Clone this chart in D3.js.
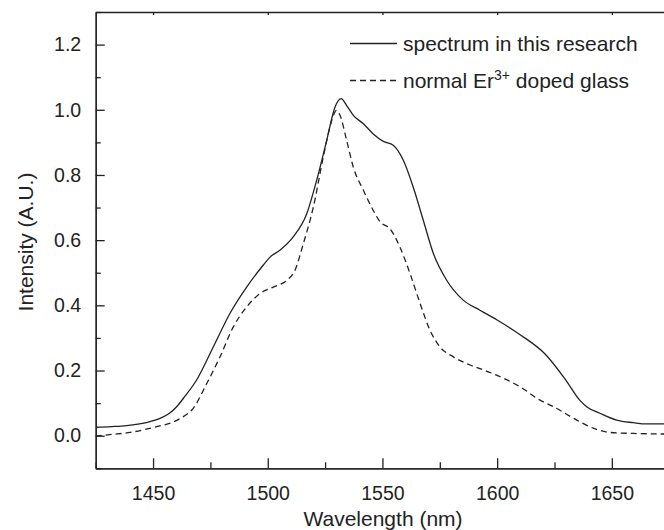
<!DOCTYPE html>
<html>
<head>
<meta charset="utf-8">
<script src="https://cdn.jsdelivr.net/npm/d3@7"></script>
<style>
  body { margin: 0; background: #fff; }
  text { font-family: "Liberation Sans", Arial, sans-serif; fill: #222; }
</style>
</head>
<body>
<div id="chart"></div>
<script>
// spectrum measured in this research (solid line)
var spectrumWl = [1425, 1432, 1438.5, 1447, 1453, 1457, 1460.3, 1464, 1469, 1476.3, 1483.5, 1490.8, 1498, 1501, 1505.3, 1511.1, 1517, 1521.3, 1525.7, 1529.3, 1532, 1534.4, 1537.3, 1541.7, 1546, 1550.4, 1554.7, 1559.1, 1563.4, 1567.8, 1572.2, 1578, 1585.2, 1592.5, 1600, 1610, 1621, 1630, 1636, 1639, 1644.8, 1652.1, 1659.4, 1665, 1675];
var spectrumI  = [0.026, 0.028, 0.031, 0.040, 0.053, 0.068, 0.089, 0.122, 0.171, 0.273, 0.375, 0.456, 0.523, 0.548, 0.569, 0.610, 0.681, 0.783, 0.906, 1.008, 1.034, 1.013, 0.983, 0.957, 0.926, 0.903, 0.891, 0.845, 0.763, 0.661, 0.559, 0.477, 0.416, 0.385, 0.355, 0.310, 0.250, 0.170, 0.109, 0.089, 0.069, 0.048, 0.040, 0.036, 0.036];

// normal Er3+ doped glass (dashed line)
var glassWl = [1425, 1432, 1440, 1447, 1453, 1458, 1461.8, 1467.5, 1473.4, 1479.2, 1485, 1490.8, 1496.6, 1502.4, 1508.3, 1511.9, 1515.5, 1519.9, 1524.2, 1527.9, 1530, 1531.5, 1534.4, 1537.3, 1541.7, 1546, 1549, 1553.3, 1557.6, 1562, 1566.4, 1570.7, 1575, 1580.9, 1588.2, 1592.5, 1600, 1610, 1618.7, 1624.5, 1634.7, 1641.9, 1649.2, 1659.4, 1675];
var glassI  = [-0.001, 0.004, 0.010, 0.020, 0.030, 0.040, 0.053, 0.084, 0.160, 0.242, 0.334, 0.395, 0.436, 0.456, 0.477, 0.508, 0.589, 0.702, 0.855, 0.967, 0.998, 0.983, 0.906, 0.824, 0.753, 0.691, 0.656, 0.635, 0.579, 0.498, 0.406, 0.324, 0.273, 0.242, 0.217, 0.206, 0.185, 0.150, 0.109, 0.089, 0.048, 0.023, 0.010, 0.007, 0.005];

var xMajor = [1450, 1500, 1550, 1600, 1650];
var xMinor = [1425, 1475, 1525, 1575, 1625, 1675];
var yMajor = [0.0, 0.2, 0.4, 0.6, 0.8, 1.0, 1.2];
var yMinor = [-0.1, 0.1, 0.3, 0.5, 0.7, 0.9, 1.1, 1.3];

var W = 664, H = 530;
var plotL = 95.7, plotT = 12, plotB = 468.3, plotR = 669.2;

var svg = d3.select("#chart").append("svg")
    .attr("width", W)
    .attr("height", H);

var x = d3.scaleLinear().domain([1425, 1675]).range([plotL, plotR]);
var y = d3.scaleLinear().domain([-0.1, 1.3]).range([plotB, plotT]);

svg.append("clipPath").attr("id", "plot")
   .append("rect")
   .attr("x", plotL).attr("y", plotT)
   .attr("width", plotR - plotL).attr("height", plotB - plotT);

// axes, ticks pointing inwards
svg.append("g")
   .attr("transform", "translate(0," + plotB + ")")
   .call(d3.axisBottom(x).tickValues(xMajor).tickSize(-10).tickSizeOuter(0).tickPadding(17.5).tickFormat(d3.format("d")))
   .style("font-size", "19.5px");

svg.append("g")
   .attr("transform", "translate(0," + plotB + ")")
   .call(d3.axisBottom(x).tickValues(xMinor).tickSize(-6).tickSizeOuter(0).tickFormat(""));

svg.append("g")
   .attr("transform", "translate(0," + plotT + ")")
   .call(d3.axisTop(x).tickValues(xMajor).tickSize(-3).tickSizeOuter(0).tickFormat(""));

svg.append("g")
   .attr("transform", "translate(" + plotL + ",0)")
   .call(d3.axisLeft(y).tickValues(yMajor).tickSize(-9).tickSizeOuter(0).tickPadding(14.5).tickFormat(d3.format(".1f")))
   .style("font-size", "19.5px");

svg.append("g")
   .attr("transform", "translate(" + plotL + ",0)")
   .call(d3.axisLeft(y).tickValues(yMinor).tickSize(-5).tickSizeOuter(0).tickFormat(""));

svg.selectAll(".domain, .tick line").attr("stroke", "#222").attr("stroke-width", 1.3);
svg.selectAll(".tick text").attr("fill", "#222");

// curves
var line = d3.line()
    .x(function(d) { return x(d[0]); })
    .y(function(d) { return y(d[1]); })
    .curve(d3.curveMonotoneX);

var curves = svg.append("g").attr("clip-path", "url(#plot)");

curves.append("path")
   .datum(d3.zip(spectrumWl, spectrumI))
   .attr("d", line)
   .attr("fill", "none")
   .attr("stroke", "#222")
   .attr("stroke-width", 1.3);

curves.append("path")
   .datum(d3.zip(glassWl, glassI))
   .attr("d", line)
   .attr("fill", "none")
   .attr("stroke", "#222")
   .attr("stroke-width", 1.3)
   .attr("stroke-dasharray", "6,4");

// legend
svg.append("line")
   .attr("x1", 350).attr("x2", 397).attr("y1", 43.5).attr("y2", 43.5)
   .attr("stroke", "#222").attr("stroke-width", 1.3);

svg.append("text")
   .attr("x", 403).attr("y", 51)
   .style("font-size", "21px")
   .text("spectrum in this research");

svg.append("line")
   .attr("x1", 350).attr("x2", 397).attr("y1", 80.5).attr("y2", 80.5)
   .attr("stroke", "#222").attr("stroke-width", 1.3)
   .attr("stroke-dasharray", "6,4");

var leg2 = svg.append("text")
   .attr("x", 403).attr("y", 88)
   .style("font-size", "21px");
leg2.append("tspan").text("normal Er");
leg2.append("tspan").attr("dy", -8).style("font-size", "14px").text("3+");
leg2.append("tspan").attr("dy", 8).text(" doped glass");

// axis titles
svg.append("text")
   .attr("x", 383).attr("y", 526)
   .attr("text-anchor", "middle")
   .style("font-size", "21px")
   .text("Wavelength (nm)");

svg.append("text")
   .attr("transform", "translate(33,242) rotate(-90)")
   .attr("text-anchor", "middle")
   .style("font-size", "21px")
   .text("Intensity (A.U.)");
</script>
</body>
</html>
